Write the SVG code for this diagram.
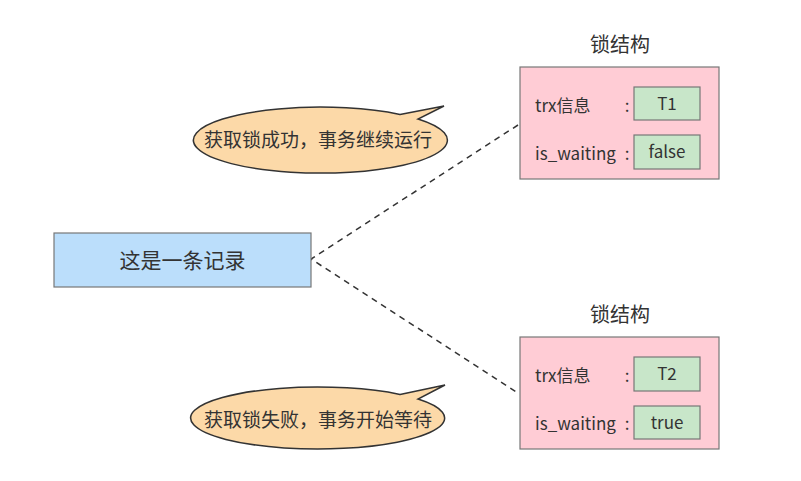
<svg xmlns="http://www.w3.org/2000/svg" width="801" height="481" viewBox="0 0 801 481">
<style>
text{font-family:"Noto Sans CJK SC","Noto Sans",sans-serif;fill:#333}
.lock{fill:#FFCCD5;stroke:#777;stroke-width:1.2}
.val{fill:#C8E6C9;stroke:#777;stroke-width:1.2}
.bubble{fill:#FCD9A8;stroke:#333;stroke-width:1.5}
.conn{fill:none;stroke:#333;stroke-width:1.5;stroke-dasharray:6,5}
.lbl{font-size:17px}
.mid{text-anchor:middle}
</style>
<rect width="801" height="481" fill="#fff"/>
<g id="connectors">
<path class="conn" d="M518,125 L311,259 L518,393"/>
</g>
<g id="record">
<rect x="54" y="233" width="257" height="54" fill="#BBDEFB" stroke="#777" stroke-width="1.2"/>
<text x="182.5" y="268" class="mid" font-size="21">这是一条记录</text>
</g>
<g id="lock1">
<text x="620" y="52" class="mid" font-size="20">锁结构</text>
<rect class="lock" x="520" y="67" width="199" height="112"/>
<text x="535" y="112" class="lbl">trx信息</text>
<text x="627" y="112" class="lbl mid">:</text>
<rect class="val" x="634" y="87" width="66" height="33"/>
<text x="667" y="110" class="lbl mid">T1</text>
<text x="535" y="160" class="lbl">is_waiting</text>
<text x="627" y="160" class="lbl mid">:</text>
<rect class="val" x="634" y="135" width="66" height="34"/>
<text x="667" y="158" class="lbl mid">false</text>
</g>
<g id="lock2">
<text x="620" y="322" class="mid" font-size="20">锁结构</text>
<rect class="lock" x="520" y="337" width="199" height="112"/>
<text x="535" y="382" class="lbl">trx信息</text>
<text x="627" y="382" class="lbl mid">:</text>
<rect class="val" x="634" y="357" width="66" height="34"/>
<text x="667" y="380" class="lbl mid">T2</text>
<text x="535" y="430" class="lbl">is_waiting</text>
<text x="627" y="430" class="lbl mid">:</text>
<rect class="val" x="634" y="406" width="66" height="33"/>
<text x="667" y="429" class="lbl mid">true</text>
</g>
<g id="callout1">
<path class="bubble" d="M400,114.4 L444,106 L418,119 A127,33 0 1 1 400,114.4 Z"/>
<text x="318" y="147" class="mid" font-size="19">获取锁成功，事务继续运行</text>
</g>
<g id="callout2">
<path class="bubble" d="M400,394.4 L445,385 L418,399 A127,31 0 1 1 400,394.4 Z"/>
<text x="318" y="427" class="mid" font-size="19">获取锁失败，事务开始等待</text>
</g>
</svg>
